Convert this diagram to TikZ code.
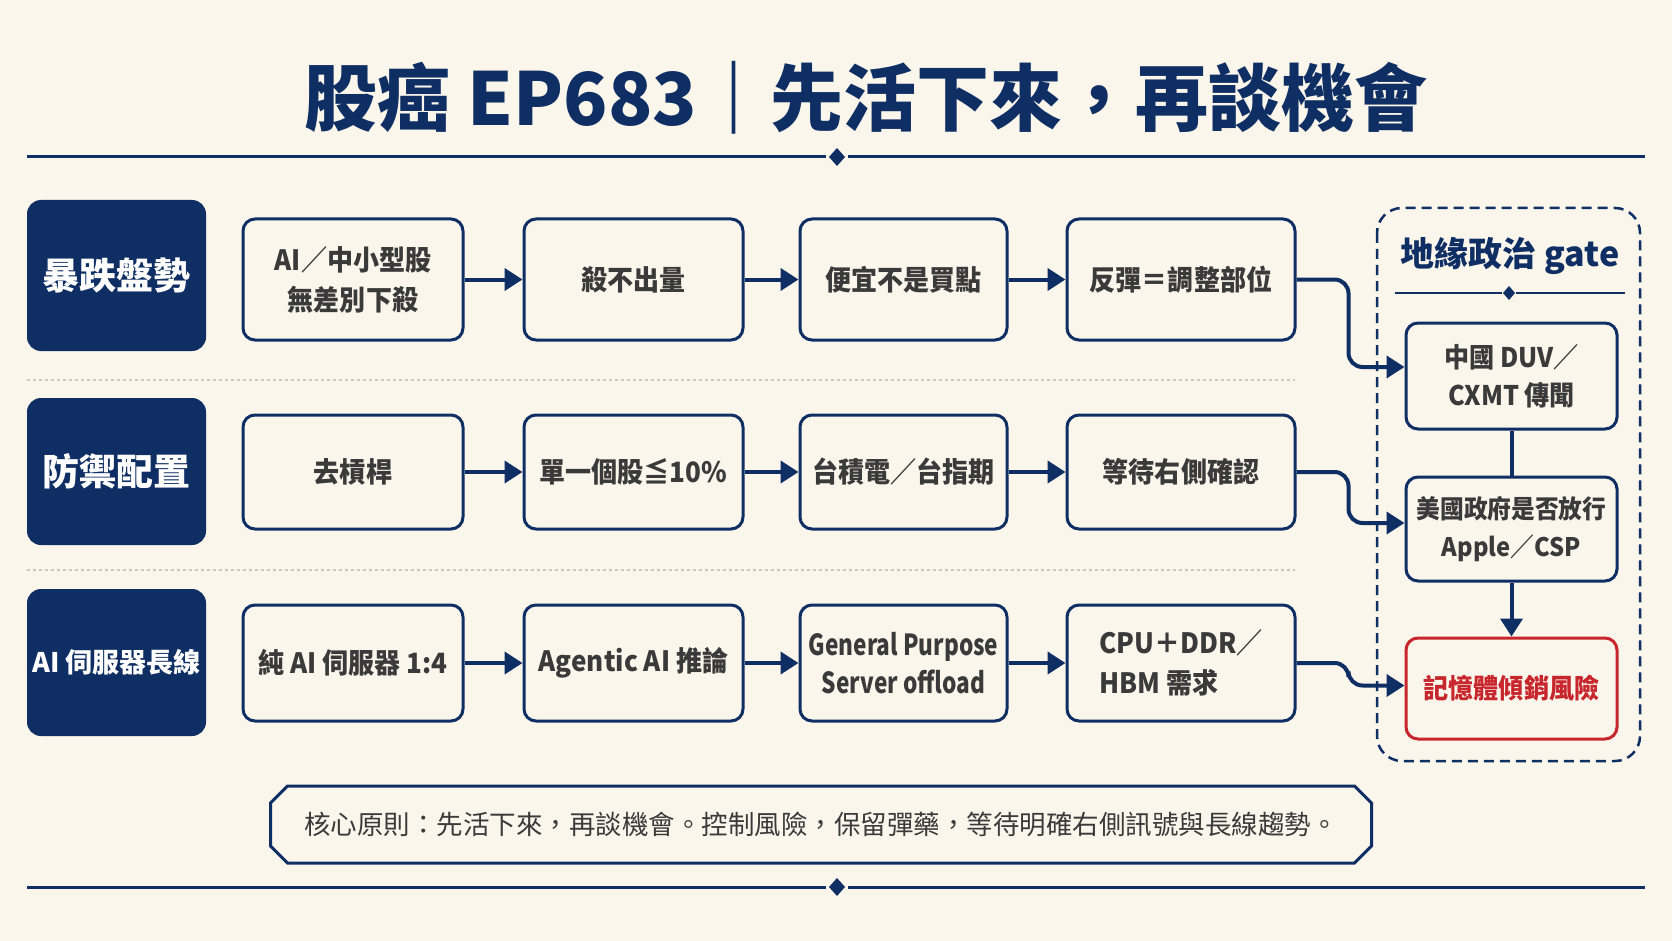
\documentclass[tikz,border=0pt]{standalone}
\usepackage{fontspec}
\setmainfont{Noto Sans CJK TC}
\newfontfamily\boxfont[FakeStretch=0.93]{Noto Sans CJK TC}
\newfontfamily\condfont[FakeStretch=0.78]{Noto Sans CJK TC}
\usetikzlibrary{arrows.meta,shapes.misc}
\definecolor{navy}{HTML}{0F2E63}
\definecolor{paper}{HTML}{FAF6EC}
\definecolor{ink}{HTML}{3A3A3A}
\definecolor{alert}{HTML}{C8262D}
\definecolor{tan}{HTML}{CFC6B4}
\newcommand{\fz}[2]{\fontsize{#1}{#2}\selectfont}

\begin{document}
\begin{tikzpicture}[x=1pt,y=-1pt,
  cat/.style={fill=navy,text=white,rounded corners=14pt,minimum width=179pt,inner sep=0pt,font=\bfseries\fz{37}{44}},
  flow/.style={draw=navy,line width=3pt,fill=paper,rounded corners=12pt,inner sep=0pt,align=center,text=ink,font=\boxfont\bfseries\fz{28}{40}},
  gbox/.style={flow,minimum width=211pt,font=\boxfont\bfseries\fz{27}{38}},
  arr/.style={draw=navy,line width=4pt,-{Triangle[length=18pt,width=22pt]}},
  link/.style={draw=navy,line width=4pt},
  sep/.style={draw=tan,line width=1.5pt,dash pattern=on 3pt off 3pt},
  rule/.style={draw=navy,line width=3pt}]
  \fill[paper] (0,0) rectangle (1672,941);
  \useasboundingbox (0,0) rectangle (1672,941);

  \node[font=\bfseries\fz{73}{80},text=navy] (title) at (866,98) {股癌 EP683｜先活下來，再談機會};
  \draw[rule] (27,157) -- (826,157);
  \draw[rule] (848,157) -- (1645,157);
  \fill[navy] (837,148) -- (845,157) -- (837,166) -- (829,157) -- cycle;

  \draw[sep] (27,380) -- (1295,380);
  \draw[sep] (27,570) -- (1295,570);

  \node[cat,minimum height=151pt] (k1) at (116.5,275.5) {暴跌盤勢};
  \node[cat,minimum height=147pt] (k2) at (116.5,471.5) {防禦配置};
  \node[cat,minimum height=147pt,font=\bfseries\fz{27}{34}] (k3) at (116.5,662.5) {AI 伺服器長線};

  \node[flow,minimum width=220pt,minimum height=121pt] (a1) at (353,279.5) {AI／中小型股\\無差別下殺};
  \node[flow,minimum width=219pt,minimum height=121pt] (a2) at (633.5,279.5) {殺不出量};
  \node[flow,minimum width=207pt,minimum height=121pt] (a3) at (903.5,279.5) {便宜不是買點};
  \node[flow,minimum width=228pt,minimum height=121pt] (a4) at (1181,279.5) {反彈＝調整部位};
  \draw[arr] (a1) -- (a2);
  \draw[arr] (a2) -- (a3);
  \draw[arr] (a3) -- (a4);

  \node[flow,minimum width=220pt,minimum height=114pt] (b1) at (353,472) {去槓桿};
  \node[flow,minimum width=219pt,minimum height=114pt] (b2) at (633.5,472) {單一個股≦10\%};
  \node[flow,minimum width=207pt,minimum height=114pt] (b3) at (903.5,472) {台積電／台指期};
  \node[flow,minimum width=228pt,minimum height=114pt] (b4) at (1181,472) {等待右側確認};
  \draw[arr] (b1) -- (b2);
  \draw[arr] (b2) -- (b3);
  \draw[arr] (b3) -- (b4);

  \node[flow,minimum width=220pt,minimum height=116pt] (c1) at (353,663) {純 AI 伺服器 1:4};
  \node[flow,minimum width=219pt,minimum height=116pt] (c2) at (633.5,663) {Agentic AI 推論};
  \node[flow,minimum width=207pt,minimum height=116pt,font=\condfont\bfseries\fz{29}{38}] (c3) at (903.5,663) {General Purpose\\Server offload};
  \node[flow,minimum width=228pt,minimum height=116pt,align=left] (c4) at (1181,663) {CPU＋DDR／\\HBM 需求};
  \draw[arr] (c1) -- (c2);
  \draw[arr] (c2) -- (c3);
  \draw[arr] (c3) -- (c4);

  \draw[navy,line width=2.5pt,dash pattern=on 10pt off 6pt,rounded corners=25pt] (1377,208) rectangle (1640,761);
  \node[font=\bfseries\fz{34}{40},text=navy] (gate) at (1510,256) {地緣政治 gate};
  \draw[navy,line width=2pt] (1395,293) -- (1502,293);
  \draw[navy,line width=2pt] (1516,293) -- (1625,293);
  \fill[navy] (1509,286) -- (1515,293) -- (1509,300) -- (1503,293) -- cycle;

  \node[gbox,minimum height=106pt] (g1) at (1511.5,376) {中國 DUV／\\CXMT 傳聞};
  \node[gbox,minimum height=104pt,font=\boxfont\bfseries\fz{25.5}{38}] (g2) at (1511.5,529) {美國政府是否放行\\Apple／CSP};
  \node[gbox,minimum height=101pt,draw=alert,text=alert] (g3) at (1511.5,688.5) {記憶體傾銷風險};
  \draw[link] (g1) -- (g2);
  \draw[arr] (g2) -- (g3);

  \draw[arr,rounded corners=14pt] (a4.east) -- ++(52,0) |- ([yshift=9pt]g1.west);
  \draw[arr,rounded corners=14pt] (b4.east) -- ++(52,0) |- ([yshift=6pt]g2.west);
  \draw[arr,rounded corners=14pt] (c4.east) -- ++(52,0) |- ([yshift=3pt]g3.west);

  \node[draw=navy,line width=3pt,chamfered rectangle,chamfered rectangle xsep=9pt,chamfered rectangle ysep=8pt,minimum width=1101pt,minimum height=77pt,inner sep=0pt,text=ink,font=\fz{26.5}{30}] (core) at (821,824.5) {核心原則：先活下來，再談機會。控制風險，保留彈藥，等待明確右側訊號與長線趨勢。};
  \draw[rule] (27,887) -- (826,887);
  \draw[rule] (848,887) -- (1645,887);
  \fill[navy] (837,878) -- (845,887) -- (837,896) -- (829,887) -- cycle;
\end{tikzpicture}
\end{document}
